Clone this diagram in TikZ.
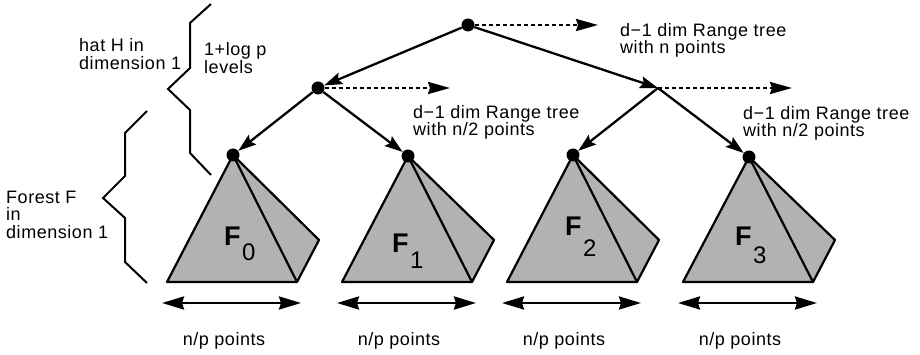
\documentclass[tikz,border=0pt]{standalone}
\usepackage{fontspec}
\setmainfont{Liberation Sans}[LetterSpace=3]
\usetikzlibrary{arrows.meta}
\begin{document}
\begin{tikzpicture}[x=1pt,y=-1pt,
  dot/.style={circle, fill=black, inner sep=0pt, minimum size=13pt},
  edge/.style={line width=2.3pt, -{Stealth[length=18pt,width=12pt,inset=3pt]}},
  darrow/.style={line width=2.5pt, dash pattern=on 4pt off 3pt, -{Stealth[length=22pt,width=12pt,inset=2pt]}},
  bar/.style={line width=2.6pt, {Stealth[length=22pt,width=13pt,inset=2pt]}-{Stealth[length=22pt,width=13pt,inset=2pt]}},
  lbl/.style={font=\fontsize{18}{20}\selectfont, inner sep=0pt, anchor=base west},
  pyr/.style={fill=black!30, draw=black, line width=2.2pt, line join=round},
  brace/.style={line width=2pt, line join=miter},
  bigF/.style={font=\fontsize{27}{29}\selectfont\bfseries, inner sep=0pt, anchor=base west},
  subF/.style={font=\fontsize{24}{26}\selectfont, inner sep=0pt, anchor=base west}]
\useasboundingbox (0,0) rectangle (920,355);

% pyramids
\foreach \i/\x/\y in {0/233/155, 1/408/156, 2/573/155, 3/749/157}{
  \coordinate (p\i) at (\x,\y);
  \filldraw[pyr] (p\i) -- (\x-66,282) -- (\x+64,282) -- (\x+86,240) -- cycle;
  \draw[pyr, fill=none] (p\i) -- (\x+64,282);
  \node[dot] (a\i) at (p\i) {};
  \coordinate (bl\i) at (\x-71,303);
  \coordinate (br\i) at (\x+68,303);
  \draw[bar] (bl\i) -- (br\i);
  \node[lbl, anchor=base] (np\i) at (\x-9,345) {n/p points};
}

% F labels
\node[bigF] (F0) at (224,245) {F};
\node[subF] (s0) at (242,261) {0};
\node[bigF] (F1) at (392,252) {F};
\node[subF] (s1) at (410,268) {1};
\node[bigF] (F2) at (565,236) {F};
\node[subF] (s2) at (583,257) {2};
\node[bigF] (F3) at (735,245) {F};
\node[subF] (s3) at (753,263) {3};

% tree
\node[dot] (root) at (468,25) {};
\node[dot] (l) at (318,88) {};
\coordinate (r) at (658,88);
\draw[edge] (root) -- (l);
\draw[edge] (root) -- (r);
\draw[edge] (l) -- (a0);
\draw[edge] (l) -- (a1);
\draw[edge] (r) -- (a2);
\draw[edge] (r) -- (a3);

% dashed arrows
\coordinate (rootd) at (598,25);
\coordinate (ld) at (450,88);
\coordinate (rd) at (792,88);
\draw[darrow] (root) -- (rootd);
\draw[darrow] (l) -- (ld);
\draw[darrow] (r) -- (rd);

% labels
\node[lbl] (t1a) at (620,37) {d−1 dim Range tree};
\node[lbl] (t1b) at (620,54) {with n points};
\node[lbl] (t2a) at (413,119) {d−1 dim Range tree};
\node[lbl] (t2b) at (413,136) {with n/2 points};
\node[lbl] (t3a) at (743,120) {d−1 dim Range tree};
\node[lbl] (t3b) at (743,137) {with n/2 points};

\node[lbl] (h1) at (79,52) {hat H in};
\node[lbl] (h2) at (79,70) {dimension 1};
\node[lbl] (g1) at (204,56) {1+log p};
\node[lbl] (g2) at (204,74) {levels};
\node[lbl] (f1) at (6,204) {Forest F};
\node[lbl] (f2) at (6,221) {in};
\node[lbl] (f3) at (6,239) {dimension 1};

% braces
\draw[brace] (211,4) -- (190,23) -- (190,68) -- (168,89) -- (190,110) -- (190,153) -- (211,175);
\draw[brace] (147,111) -- (125,133) -- (125,176) -- (103,198) -- (125,218) -- (125,262) -- (147,283);
\end{tikzpicture}
\end{document}
